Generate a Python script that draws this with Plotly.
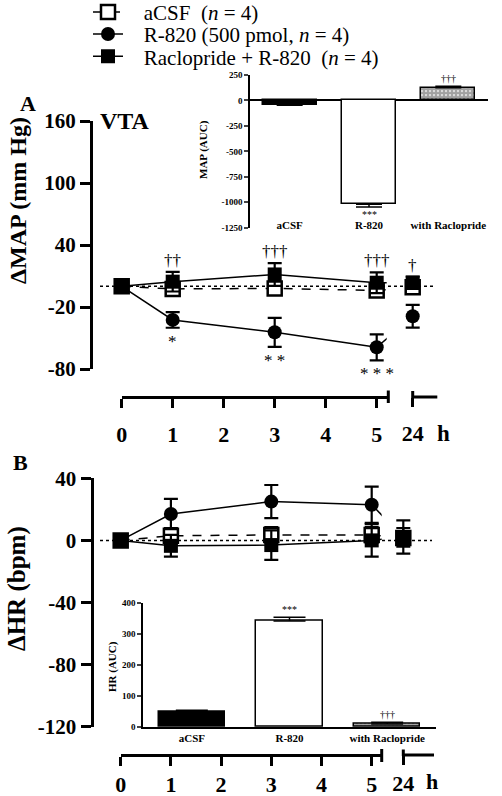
import plotly.graph_objects as go

W, H = 502, 796
def fx(px): return px / W
def fy(py): return 1 - py / H

FONT = "Liberation Serif"

# ---------------- data ----------------
hours = [0, 1, 3, 5]
hour_late = [24]
hour_ticks = [0, 1, 2, 3, 4, 5]

names = ["\u00a0\u00a0\u00a0aCSF\u00a0\u00a0(<i>n</i> = 4)",
         "\u00a0\u00a0\u00a0R-820 (500 pmol, <i>n</i> = 4)",
         "\u00a0\u00a0\u00a0Raclopride + R-820\u00a0\u00a0(<i>n</i> = 4)"]

map_acsf = [0, -2.5, -2, -4]
map_acsf_sem = [0, 3, 3, 4]
map_acsf_24 = [-1]
map_acsf_24_sem = [4]
map_r820 = [0, -32.5, -44.5, -59]
map_r820_sem = [0, 7.6, 14, 12.6]
map_r820_24 = [-29]
map_r820_24_sem = [11]
map_rac = [0, 4.5, 11.5, 3.5]
map_rac_sem = [0, 9.5, 11, 10]
map_rac_24 = [3.5]
map_rac_24_sem = [6]

hr_acsf = [0, 3, 3.5, 3.5]
hr_acsf_sem = [0, 5, 5, 5]
hr_acsf_24 = [1.5]
hr_acsf_24_sem = [4]
hr_r820 = [0, 17, 25, 23]
hr_r820_sem = [0, 9.8, 10.7, 11.7]
hr_r820_24 = [2]
hr_r820_24_sem = [6]
hr_rac = [0, -3.5, -3, 0]
hr_rac_sem = [0, 7, 9.5, 10.5]
hr_rac_24 = [2.2]
hr_rac_24_sem = [10.7]

auc_groups = ["aCSF", "R-820", "with Raclopride"]
map_auc = [-40, -1020, 124]
map_auc_sem = [6, 26, 16]
hr_auc = [49, 341, 10]
hr_auc_sem = [5, 12, 5]

map_ticks = [-80, -20, 40, 100, 160]
map_ticktext = ["-80", "-20", "40", "100", "160"]
hr_ticks = [-120, -80, -40, 0, 40]
hr_ticktext = ["-120", "-80", "-40", "0", "40"]
map_auc_ticks = [-1250, -1000, -750, -500, -250, 0, 250]
map_auc_ticktext = ["-1250", "-1000", "-750", "-500", "-250", "0", "250"]
hr_auc_ticks = [0, 100, 200, 300, 400]

map_marks_dag = ["††", "†††", "†††"]   # above Raclopride at 1, 3, 5 h
map_marks_dag24 = "†"
map_marks_star = ["*", "* *", "* * *"]  # below R-820 at 1, 3, 5 h

# ---------------- layout constants (pixels) ----------------
A_X0, A_X5END, A_PXH = 121.7, 386.7, 51.0
A_X24, A_X24END = 412.7, 437.3
B_X0, B_X5END, B_PXH = 120.7, 381.7, 50.2
B_X24, B_X24END = 403.3, 434.0
PAD = 12  # extra room left of the 24 h point so its error bars are not clipped
A_RANGE_END = (A_X5END - A_X0) / A_PXH
B_RANGE_END = (B_X5END - B_X0) / B_PXH
A_POS24 = A_RANGE_END + (A_X24 - A_X5END) / A_PXH
B_POS24 = B_RANGE_END + (B_X24 - B_X5END) / B_PXH
A_AX_Y, B_AX_Y = 397, 755

styles = [
    dict(symbol="square", color="white", lw=2.5, dash="dash"),
    dict(symbol="circle", color="black", lw=0, dash="solid"),
    dict(symbol="square", color="black", lw=0, dash="solid"),
]

fig = go.Figure()

def add_panel(xa, ya, x24a, series, pos24, legend_on):
    for i, (vals, sems, v24, s24) in enumerate(series):
        st = styles[i]
        marker = dict(symbol=st["symbol"], size=14, color=st["color"],
                      line=dict(color="black", width=st["lw"]))
        err = dict(type="data", array=sems, visible=True, color="black",
                   thickness=2.2, width=7)
        # stub line towards the 24 h point (clipped at axis break)
        fig.add_trace(go.Scatter(x=[hours[-1], pos24], y=[vals[-1], v24[0]],
                                 mode="lines", xaxis=xa, yaxis=ya,
                                 line=dict(color="black", width=1.5, dash=st["dash"]),
                                 showlegend=False, hoverinfo="skip", cliponaxis=True))
        if legend_on:
            kw = dict(showlegend=True, name=names[i],
                      legend=["legend", "legend2", "legend3"][i])
        else:
            kw = dict(showlegend=False)
        fig.add_trace(go.Scatter(x=hours, y=vals, mode="lines+markers",
                                 xaxis=xa, yaxis=ya, marker=marker, error_y=err,
                                 line=dict(color="black", width=1.5, dash=st["dash"]),
                                 cliponaxis=False, **kw))
        fig.add_trace(go.Scatter(x=hour_late, y=v24, mode="markers",
                                 xaxis=x24a, yaxis=ya, marker=marker,
                                 error_y=dict(err, array=s24),
                                 showlegend=False, cliponaxis=False))

# order: aCSF, R-820, Raclopride (Raclopride on top)
add_panel("x", "y", "x2", [
    (map_acsf, map_acsf_sem, map_acsf_24, map_acsf_24_sem),
    (map_r820, map_r820_sem, map_r820_24, map_r820_24_sem),
    (map_rac, map_rac_sem, map_rac_24, map_rac_24_sem)], A_POS24, True)
add_panel("x4", "y4", "x5", [
    (hr_acsf, hr_acsf_sem, hr_acsf_24, hr_acsf_24_sem),
    (hr_r820, hr_r820_sem, hr_r820_24, hr_r820_24_sem),
    (hr_rac, hr_rac_sem, hr_rac_24, hr_rac_24_sem)], B_POS24, False)

# insets
bar_marker = dict(color=["black", "white", "white"],
                  line=dict(color="black", width=1.5),
                  pattern=dict(shape=["", "", "."], fgcolor="black", bgcolor="white",
                               size=4, solidity=0.8))
fig.add_trace(go.Bar(x=auc_groups, y=map_auc, xaxis="x3", yaxis="y3", width=0.68,
                     marker=bar_marker, showlegend=False,
                     error_y=dict(type="data", symmetric=False,
                                  array=[s if v > 0 else 0 for v, s in zip(map_auc, map_auc_sem)],
                                  arrayminus=[s if v < 0 else 0 for v, s in zip(map_auc, map_auc_sem)],
                                  color="black", thickness=1.5, width=13)))
fig.add_trace(go.Bar(x=auc_groups, y=hr_auc, xaxis="x6", yaxis="y6", width=0.68,
                     marker=bar_marker, showlegend=False,
                     error_y=dict(type="data", symmetric=False,
                                  array=[s if v > 0 else 0 for v, s in zip(hr_auc, hr_auc_sem)],
                                  arrayminus=[s if v < 0 else 0 for v, s in zip(hr_auc, hr_auc_sem)],
                                  color="black", thickness=1.5, width=16)))

big = dict(family=FONT, size=22, color="black", weight="bold")
small = dict(family=FONT, size=9, color="black", weight="bold")
cat = dict(family=FONT, size=11, color="black", weight="bold")

main_x = dict(showline=True, linewidth=3, linecolor="black", ticks="outside",
              ticklen=9, tickwidth=3, tickcolor="black", showgrid=False, zeroline=False,
              tickfont=big, anchor="free", ticklabelstandoff=8)
main_y = dict(showline=True, linewidth=3, linecolor="black", ticks="outside",
              ticklen=10, tickwidth=3, tickcolor="black", showgrid=False, zeroline=False,
              tickfont=dict(big, size=21), anchor="free")

fig.update_layout(
    width=W, height=H, margin=dict(l=0, r=0, t=0, b=0, autoexpand=False),
    paper_bgcolor="white", plot_bgcolor="white",
    font=dict(family=FONT, color="black"),
    bargap=0,
    xaxis=dict(main_x, domain=[fx(A_X0), fx(A_X5END)], range=[0, A_RANGE_END],
               tickvals=hour_ticks, position=fy(A_AX_Y)),
    xaxis2=dict(main_x, domain=[fx(A_X24 - PAD), fx(A_X24END)], showline=False,
                range=[24 - PAD / A_PXH, 24 + (A_X24END - A_X24) / A_PXH],
                tickvals=hour_late, position=fy(A_AX_Y)),
    yaxis=dict(main_y, domain=[fy(369), fy(121)], range=[-80, 160],
               tickvals=map_ticks, ticktext=map_ticktext, position=fx(91)),
    xaxis4=dict(main_x, domain=[fx(B_X0), fx(B_X5END)], range=[0, B_RANGE_END],
                tickvals=hour_ticks, position=fy(B_AX_Y), ticklabelstandoff=0),
    xaxis5=dict(main_x, domain=[fx(B_X24 - PAD), fx(B_X24END)], showline=False,
                range=[24 - PAD / B_PXH, 24 + (B_X24END - B_X24) / B_PXH],
                tickvals=hour_late, position=fy(B_AX_Y), ticklabelstandoff=0),
    yaxis4=dict(main_y, domain=[fy(726.7), fy(478.3)], range=[-120, 40],
                tickvals=hr_ticks, ticktext=hr_ticktext, position=fx(91.5)),
    xaxis3=dict(domain=[fx(250), fx(488)], range=[-0.5, 2.5], anchor="free",
                position=fy(217), showline=False, ticks="", tickfont=cat,
                showgrid=False, zeroline=False),
    yaxis3=dict(domain=[fy(227.7), fy(75)], range=[-1250, 250], anchor="x3",
                showline=True, linewidth=1.5, linecolor="black", ticks="outside",
                ticklen=4, tickwidth=1.5, tickvals=map_auc_ticks,
                ticktext=map_auc_ticktext, tickfont=small, showgrid=False,
                zeroline=True, zerolinewidth=1.5, zerolinecolor="black"),
    xaxis6=dict(domain=[fx(143), fx(436)], range=[-0.5, 2.5], anchor="y6",
                showline=True, linewidth=1.5, linecolor="black", ticks="",
                tickfont=cat, showgrid=False, zeroline=False),
    yaxis6=dict(domain=[fy(727), fy(602.7)], range=[0, 400], anchor="x6",
                showline=True, linewidth=1.5, linecolor="black", ticks="outside",
                ticklen=4, tickwidth=1.5, tickvals=hr_auc_ticks, tickfont=small,
                showgrid=False, zeroline=False),
)

leg = dict(xanchor="left", yanchor="middle", bgcolor="rgba(0,0,0,0)",
           font=dict(family=FONT, size=21, color="black"), borderwidth=0)
fig.update_layout(
    legend=dict(leg, x=fx(88), y=fy(12.3)),
    legend2=dict(leg, x=fx(88), y=fy(34.3)),
    legend3=dict(leg, x=fx(88), y=fy(56.7)),
)

# reference lines, 24 h axis segments and axis-break marks
blk = dict(color="black", width=3)
shapes = [
    dict(type="line", xref="paper", yref="y", x0=fx(100), x1=fx(435), y0=0, y1=0,
         line=dict(color="black", width=1.5, dash="dot"), layer="below"),
    dict(type="line", xref="paper", yref="y4", x0=fx(100), x1=fx(432), y0=0, y1=0,
         line=dict(color="black", width=1.5, dash="dot"), layer="below"),
    dict(type="line", xref="paper", yref="paper", x0=fx(A_X24), x1=fx(A_X24END),
         y0=fy(A_AX_Y), y1=fy(A_AX_Y), line=blk),
    dict(type="line", xref="paper", yref="paper", x0=fx(B_X24), x1=fx(B_X24END),
         y0=fy(B_AX_Y), y1=fy(B_AX_Y), line=blk),
    dict(type="line", xref="paper", yref="paper", x0=fx(388.3), x1=fx(388.3),
         y0=fy(390.5), y1=fy(403), line=blk),
    dict(type="line", xref="paper", yref="paper", x0=fx(A_X24), x1=fx(A_X24),
         y0=fy(391), y1=fy(398), line=blk),
    dict(type="line", xref="paper", yref="paper", x0=fx(381.7), x1=fx(381.7),
         y0=fy(749), y1=fy(762), line=blk),
    dict(type="line", xref="paper", yref="paper", x0=fx(B_X24), x1=fx(B_X24),
         y0=fy(749.5), y1=fy(756), line=blk),
]
fig.update_layout(shapes=shapes)

ann = []
def text(x, y, s, size, bold=True, angle=0, xanchor="center", yanchor="middle"):
    ann.append(dict(x=fx(x), y=fy(y), xref="paper", yref="paper", text=s,
                    showarrow=False, textangle=angle, xanchor=xanchor, yanchor=yanchor,
                    font=dict(family=FONT, size=size, color="black",
                              weight="bold" if bold else "normal")))

text(28, 103, "A", 22)
text(125, 121, "VTA", 24)
text(20, 462, "B", 22)
text(18, 201, "ΔMAP (mm Hg)", 24, angle=-90)
text(17, 589, "ΔHR (bpm)", 25, angle=-90)
text(203, 150, "MAP (AUC)", 11, angle=-90)
text(112, 667, "HR (AUC)", 11, angle=-90)
text(443.3, 433, "h", 23)
text(431.7, 781, "h", 22)

# significance marks (main panel A)
for t, v, s, m in zip(hours[1:], map_rac[1:], map_rac_sem[1:], map_marks_dag):
    ann.append(dict(x=t, y=v + s, xref="x", yref="y", text=m, showarrow=False,
                    yanchor="bottom", yshift=0,
                    font=dict(family=FONT, size=17, color="black")))
ann.append(dict(x=hour_late[0], y=map_rac_24[0] + map_rac_24_sem[0], xref="x2", yref="y",
                text=map_marks_dag24, showarrow=False, yanchor="bottom",
                font=dict(family=FONT, size=17, color="black")))
for t, v, s, m in zip(hours[1:], map_r820[1:], map_r820_sem[1:], map_marks_star):
    ann.append(dict(x=t, y=v - s, xref="x", yref="y", text=m, showarrow=False,
                    yanchor="top", yshift=-2,
                    font=dict(family=FONT, size=17, color="black")))
# inset marks
ann.append(dict(x=auc_groups[1], y=map_auc[1] - map_auc_sem[1], xref="x3", yref="y3",
                text="***", showarrow=False, yanchor="top",
                font=dict(family=FONT, size=10, color="black")))
ann.append(dict(x=auc_groups[2], y=map_auc[2] + map_auc_sem[2], xref="x3", yref="y3",
                text="†††", showarrow=False, yanchor="bottom",
                font=dict(family=FONT, size=10, color="black")))
ann.append(dict(x=auc_groups[1], y=hr_auc[1] + hr_auc_sem[1], xref="x6", yref="y6",
                text="***", showarrow=False, yanchor="bottom",
                font=dict(family=FONT, size=10, color="black")))
ann.append(dict(x=auc_groups[2], y=hr_auc[2] + hr_auc_sem[2], xref="x6", yref="y6",
                text="†††", showarrow=False, yanchor="bottom",
                font=dict(family=FONT, size=10, color="black")))
fig.update_layout(annotations=ann)

fig.write_html("out.html", config={"displayModeBar": False},
               post_script="document.body.style.margin='0px';")
